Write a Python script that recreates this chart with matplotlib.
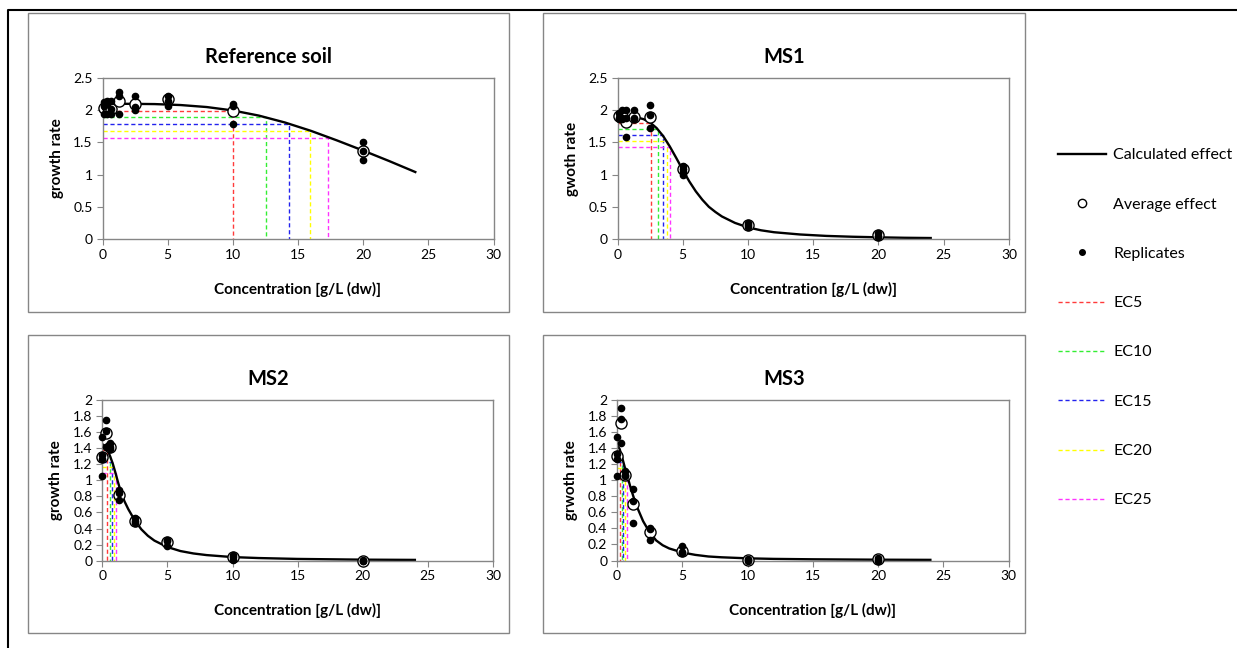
import matplotlib
matplotlib.use("Agg")
import matplotlib.pyplot as plt
from matplotlib.lines import Line2D
from matplotlib.patches import Rectangle
from matplotlib.ticker import FuncFormatter, MultipleLocator

plt.rcParams["font.family"] = ["Lato", "DejaVu Sans"]

W, H = 1237, 648

# Test concentrations [g/L dw]
conc_ref = [0.15, 0.3125, 0.625, 1.25, 2.5, 5, 10, 20]
conc_ms = [0, 0.3125, 0.625, 1.25, 2.5, 5, 10, 20]

# Reference soil
ref_reps = [[2.12, 2.06, 1.94], [2.15, 2.10, 1.94], [2.15, 2.02, 1.94], [2.29, 2.22, 1.94],
            [2.22, 2.05, 2.00], [2.22, 2.15, 2.07], [2.09, 2.07, 1.78], [1.50, 1.36, 1.22]]
ref_avg = [2.04, 2.06, 2.02, 2.14, 2.10, 2.18, 1.98, 1.36]
ref_fit_x = [0, 2, 4, 6, 8, 10, 12, 14, 16, 18, 20, 22, 24]
ref_fit_y = [2.10, 2.099, 2.095, 2.08, 2.049, 1.996, 1.916, 1.809, 1.679, 1.530, 1.373, 1.21, 1.04]
ref_ec_x = [10.0, 12.52, 14.33, 15.92, 17.33]
ref_ec_y = [1.995, 1.89, 1.785, 1.68, 1.575]

# MS1
ms1_reps = [[1.95, 1.88, 1.86], [2.00, 1.88, 1.86], [2.00, 1.88, 1.59], [2.00, 1.88, 1.87],
            [2.08, 1.92, 1.72], [1.14, 1.08, 1.04, 1.00], [0.25, 0.22, 0.18], [0.10, 0.05, 0.03]]
ms1_avg = [1.91, 1.91, 1.82, 1.90, 1.90, 1.08, 0.22, 0.06]
ms1_fit_x = [0, 0.5, 1, 1.5, 2, 2.5, 3, 3.5, 4, 4.5, 5, 5.5, 6, 6.5, 7, 7.5, 8, 9, 10,
             11, 12, 14, 16, 18, 20, 22, 24]
ms1_fit_y = [1.90, 1.90, 1.897, 1.887, 1.861, 1.809, 1.722, 1.598, 1.439, 1.259, 1.073, 0.895,
             0.74, 0.61, 0.50, 0.42, 0.35, 0.25, 0.18, 0.135, 0.105, 0.07, 0.048, 0.035, 0.026,
             0.019, 0.015]
ms1_ec_x = [2.53, 3.09, 3.47, 3.78, 4.04]
ms1_ec_y = [1.805, 1.71, 1.615, 1.52, 1.425]

# MS2
ms2_reps = [[1.54, 1.32, 1.27, 1.05], [1.75, 1.61, 1.42], [1.47, 1.41, 1.39], [0.88, 0.84, 0.76],
            [0.53, 0.50, 0.47], [0.26, 0.24, 0.18], [0.07, 0.05, 0.01], [0.01, 0.0, 0.0]]
ms2_avg = [1.29, 1.59, 1.42, 0.82, 0.49, 0.23, 0.04, 0.0]
ms2_fit_x = [0, 0.2, 0.4, 0.6, 0.8, 1.0, 1.2, 1.4, 1.7, 2.0, 2.5, 3, 3.5, 4, 5, 6, 7, 8,
             10, 12, 15, 20, 24]
ms2_fit_y = [1.45, 1.43, 1.38, 1.30, 1.21, 1.10, 0.98, 0.87, 0.74, 0.64, 0.50, 0.39, 0.31,
             0.25, 0.17, 0.12, 0.09, 0.07, 0.045, 0.033, 0.022, 0.013, 0.01]
ms2_ec_x = [0.38, 0.57, 0.74, 0.90, 1.05]
ms2_ec_y = [1.378, 1.305, 1.2325, 1.16, 1.0875]

# MS3
ms3_reps = [[1.54, 1.33, 1.27, 1.05], [1.90, 1.76, 1.46], [1.11, 1.07, 1.05], [0.89, 0.74, 0.47],
            [0.40, 0.39, 0.26], [0.18, 0.10, 0.09], [0.02, 0.01, 0.0], [0.03, 0.01, 0.0]]
ms3_avg = [1.30, 1.71, 1.07, 0.70, 0.35, 0.12, 0.01, 0.015]
ms3_fit_x = [0, 0.2, 0.4, 0.6, 0.8, 1.0, 1.25, 1.5, 2, 2.5, 3, 3.5, 4, 5, 6, 7, 8, 10, 12,
             15, 20, 24]
ms3_fit_y = [1.44, 1.39, 1.28, 1.16, 1.05, 0.93, 0.80, 0.68, 0.49, 0.35, 0.25, 0.19, 0.15,
             0.10, 0.07, 0.05, 0.04, 0.027, 0.02, 0.015, 0.01, 0.008]
ms3_ec_x = [0.26, 0.36, 0.49, 0.61, 0.77]
ms3_ec_y = [1.368, 1.296, 1.224, 1.152, 1.08]

ec_names = ["EC5", "EC10", "EC15", "EC20", "EC25"]
ec_colors = ["#ff3b3b", "#33ee33", "#2222ee", "#ffff00", "#ff33ff"]

GRID = "#868686"
EC_DASH = (0, (3, 2))


def px_rect(x0, y0, x1, y1):
    """Pixel box (top-left origin) -> figure fraction [left, bottom, width, height]."""
    return [x0 / W, 1 - y1 / H, (x1 - x0) / W, (y1 - y0) / H]


def draw_panel(fig, box, plot, title, ylabel, conc, reps, avg, fit_x, fit_y, ec_x, ec_y,
               ymax, ystep):
    # grey chart-area frame
    x0, y0, x1, y1 = box
    fig.add_artist(Rectangle((x0 / W, 1 - y1 / H), (x1 - x0) / W, (y1 - y0) / H,
                             transform=fig.transFigure, fill=False, ec=GRID, lw=1))
    fig.text((x0 + x1) / 2 / W, 1 - (y0 + 44) / H, title, ha="center", va="center",
             fontsize=14.5, fontweight="bold")

    ax = fig.add_axes(px_rect(*plot))
    for x, lvl, c, name in zip(ec_x, ec_y, ec_colors, ec_names):
        ax.plot([0, x, x], [lvl, lvl, 0], ls=EC_DASH, lw=1.0, color=c, label=name)
    ax.plot(fit_x, fit_y, color="black", lw=1.7, label="Calculated effect")

    rep_x = [c for c, r in zip(conc, reps) for _ in r]
    rep_y = [v for r in reps for v in r]
    ax.plot(conc, avg, "o", mfc="white", mec="black", mew=1.0, ms=8, clip_on=False,
            label="Average effect", zorder=3)
    ax.plot(rep_x, rep_y, "o", color="black", ms=4.5, ls="none", clip_on=False,
            label="Replicates", zorder=4)

    ax.set_xlim(0, 30)
    ax.set_ylim(0, ymax)
    ax.xaxis.set_major_locator(MultipleLocator(5))
    ax.yaxis.set_major_locator(MultipleLocator(ystep))
    ax.yaxis.set_major_formatter(FuncFormatter(lambda v, p: f"{v:g}"))
    for s in ax.spines.values():
        s.set_color(GRID)
        s.set_linewidth(1.0)
    ax.tick_params(direction="out", length=4, color=GRID, labelsize=10, pad=3)
    ax.set_xlabel("Concentration [g/L (dw)]", fontsize=11, fontweight="bold", labelpad=15)
    ax.set_ylabel(ylabel, fontsize=11, fontweight="bold", labelpad=7)
    return ax


fig = plt.figure(figsize=(W / 100, H / 100), dpi=100)

draw_panel(fig, (28, 13, 509, 312), (102.5, 78, 493.5, 239), "Reference soil", "growth rate",
           conc_ref, ref_reps, ref_avg, ref_fit_x, ref_fit_y, ref_ec_x, ref_ec_y, 2.5, 0.5)
draw_panel(fig, (543, 13, 1025, 312), (617.5, 78, 1009, 239), "MS1", "gwoth rate",
           conc_ref, ms1_reps, ms1_avg, ms1_fit_x, ms1_fit_y, ms1_ec_x, ms1_ec_y, 2.5, 0.5)
draw_panel(fig, (28, 335, 509, 633), (102.3, 400, 493, 560.7), "MS2", "growth rate",
           conc_ms, ms2_reps, ms2_avg, ms2_fit_x, ms2_fit_y, ms2_ec_x, ms2_ec_y, 2, 0.2)
draw_panel(fig, (543, 335, 1025, 633), (617, 400, 1008.7, 560.5), "MS3", "grwoth rate",
           conc_ms, ms3_reps, ms3_avg, ms3_fit_x, ms3_fit_y, ms3_ec_x, ms3_ec_y, 2, 0.2)

# shared legend on the right
handles = [Line2D([], [], color="black", lw=1.7),
           Line2D([], [], ls="none", marker="o", mfc="white", mec="black", ms=6),
           Line2D([], [], ls="none", marker="o", color="black", ms=4)]
handles += [Line2D([], [], ls=EC_DASH, lw=1.0, color=c) for c in ec_colors]
labels = ["Calculated effect", "Average effect", "Replicates"] + ec_names
fig.legend(handles, labels, loc="upper left", bbox_to_anchor=(1058 / W, 1 - 148 / H),
           frameon=False, fontsize=11.5, handlelength=3.0, handletextpad=0.45,
           labelspacing=2.2, borderaxespad=0, borderpad=0)

# outer frame (top and left edge)
fig.add_artist(Line2D([8 / W, 8 / W, 1], [0, 1 - 10 / H, 1 - 10 / H],
                      transform=fig.transFigure, color="black", lw=1.5))

plt.savefig("out.png", dpi=100)
plt.close()
